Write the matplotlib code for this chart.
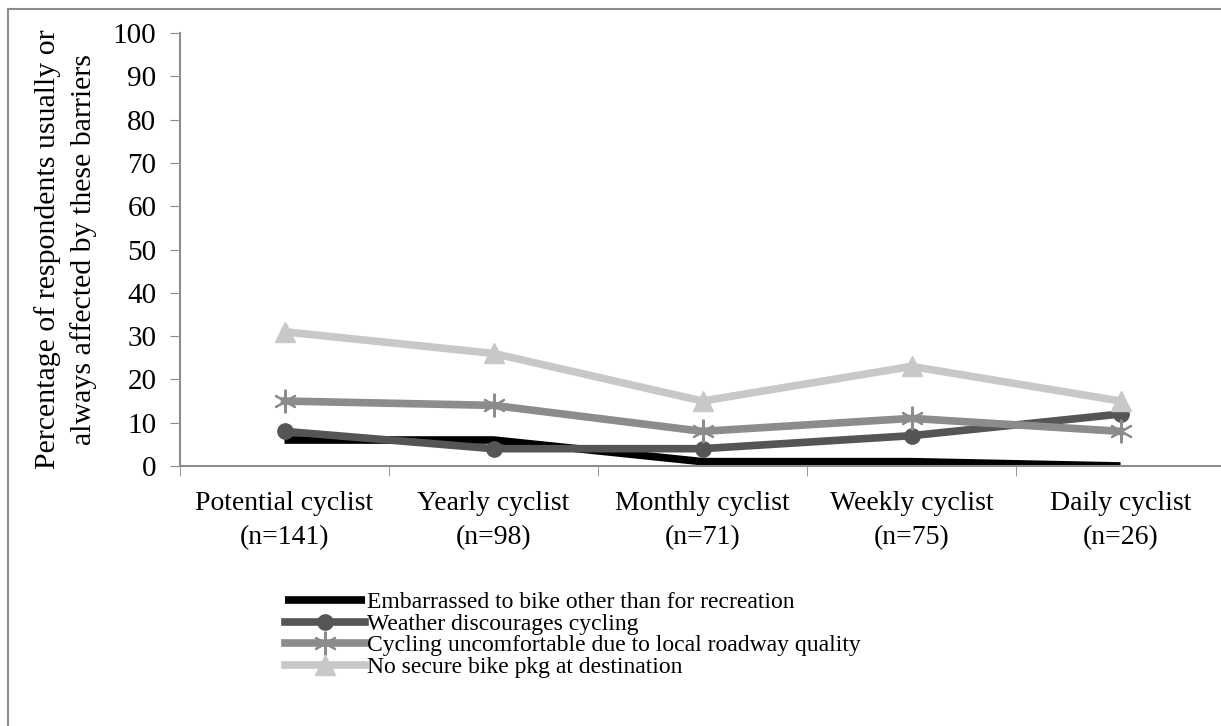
import numpy as np
import matplotlib.pyplot as plt
from matplotlib.lines import Line2D

# ## Data
categories = ['Potential cyclist\n(n=141)', 'Yearly cyclist\n(n=98)', 'Monthly cyclist\n(n=71)',
              'Weekly cyclist\n(n=75)', 'Daily cyclist\n(n=26)']
embarrassed = [6, 6, 1, 1, 0]
weather = [8, 4, 4, 7, 12]
roadway = [15, 14, 8, 11, 8]
parking = [31, 26, 15, 23, 15]
labels = ['Embarrassed to bike other than for recreation',
          'Weather discourages cycling',
          'Cycling uncomfortable due to local roadway quality',
          'No secure bike pkg at destination']

plt.rcParams['font.family'] = ['Liberation Serif', 'DejaVu Serif']
plt.rcParams['font.size'] = 20

fig = plt.figure(figsize=(12.21, 7.26), dpi=100)
ax = fig.add_axes([180/1221, 1-466/726, 1045/1221, 433/726])

x = np.arange(len(categories))
ax.plot(x, embarrassed, color='black', lw=5.5, solid_capstyle='butt', label=labels[0])
ax.plot(x, weather, color='#555555', lw=5.5, marker='o', ms=11, label=labels[1])
ax.plot(x, roadway, color='#8c8c8c', lw=5.5, marker=(6, 2, 0), ms=17, mew=1.5, label=labels[2])
ax.plot(x, parking, color='#c8c8c8', lw=5.5, marker='^', ms=14, label=labels[3])

ax.set_xlim(-0.5, 4.5)
ax.set_ylim(0, 100)
ax.set_yticks(range(0, 101, 10))
ax.set_yticklabels([str(v) for v in range(0, 101, 10)], fontsize=21)
ax.set_xticks(x)
ax.set_xticklabels(categories, linespacing=1.5)
ax.set_xticks(np.arange(-0.5, 5, 1), minor=True)
ax.tick_params(axis='x', which='major', length=0, pad=18)
ax.tick_params(axis='x', which='minor', length=7, color='#8c8c8c')
ax.tick_params(axis='y', length=7, color='#8c8c8c', pad=10)
for s in ['top', 'right']:
    ax.spines[s].set_visible(False)
for s in ['left', 'bottom']:
    ax.spines[s].set_color('#8c8c8c')
    ax.spines[s].set_linewidth(1.5)

ax.set_ylabel('Percentage of respondents usually or\nalways affected by these barriers',
              fontsize=21.5, labelpad=11, linespacing=1.45)

leg = fig.legend(loc='upper left', bbox_to_anchor=(273/1221, 1-580/726), frameon=False,
                 fontsize=17, handlelength=3.4, handletextpad=0.1, labelspacing=0.0, borderpad=0)

# outer chart border (top and left)
fig.add_artist(Line2D([8/1221, 1], [1-9/726, 1-9/726], color='#8c8c8c', lw=1.5))
fig.add_artist(Line2D([8/1221, 8/1221], [0, 1-9/726], color='#8c8c8c', lw=1.5))

plt.savefig('out.png')
